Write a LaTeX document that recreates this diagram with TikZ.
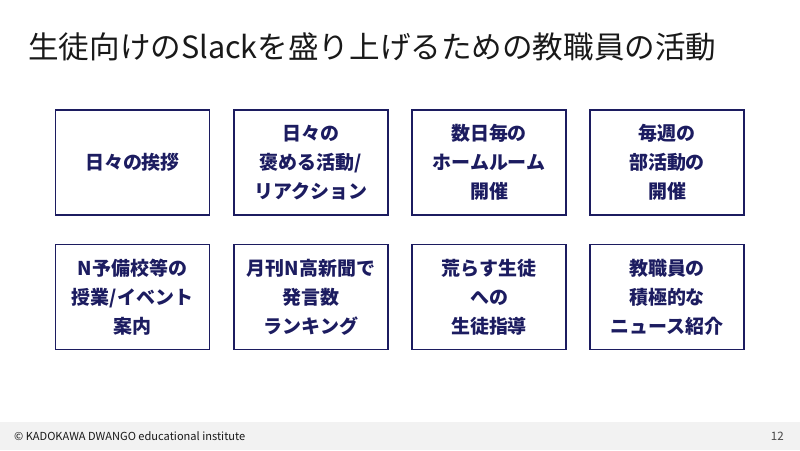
\documentclass[tikz,border=0pt]{standalone}
\usepackage{fontspec}
\newfontfamily\jpfont{Noto Sans CJK JP}
\usetikzlibrary{positioning}
\definecolor{boxnavy}{RGB}{28,28,96}
\definecolor{footgray}{RGB}{242,242,242}
\definecolor{titleblack}{RGB}{25,25,25}

\begin{document}
\begin{tikzpicture}[x=0.02cm,y=-0.02cm,
    actbox/.style={draw=boxnavy, line width=0.85pt, text=boxnavy,
        minimum width=3.08cm, minimum height=2.1cm, inner sep=0pt,
        align=center, font=\jpfont\bfseries\fontsize{10.8}{16.4}\selectfont}]
    % Page frame
    \useasboundingbox (0,0) rectangle (800,450);
    % Footer band
    \fill[footgray] (0,422) rectangle (800,450);
    \node[anchor=west, text=titleblack, font=\jpfont\fontsize{6.3}{8}\selectfont]
        (credit) at (8,436) {© KADOKAWA DWANGO educational institute};
    \node[anchor=east, text=titleblack!80, font=\jpfont\fontsize{6.6}{8}\selectfont]
        (pageno) at (790,436) {12};
    % Title
    \node[anchor=base west, inner sep=0pt, text=titleblack,
        font=\jpfont\fontsize{17.4}{20}\selectfont]
        (title) at (28,58) {生徒向けのSlackを盛り上げるための教職員の活動};
    % Upper row
    \node[actbox] (greet) at (132.5,162.5) {日々の挨拶};
    \node[actbox] (praise) at (311,162.5) {日々の\\褒める活動/\\リアクション};
    \node[actbox] (homeroom) at (489,162.5) {数日毎の\\ホームルーム\\開催};
    \node[actbox] (club) at (667,162.5) {毎週の\\部活動の\\開催};
    % Lower row
    \node[actbox] (prep) at (132.5,297) {N予備校等の\\授業/イベント\\案内};
    \node[actbox] (ranking) at (311,297) {月刊N高新聞で\\発言数\\ランキング};
    \node[actbox] (guide) at (489,297) {荒らす生徒\\への\\生徒指導};
    \node[actbox] (news) at (667,297) {教職員の\\積極的な\\ニュース紹介};
\end{tikzpicture}
\end{document}
